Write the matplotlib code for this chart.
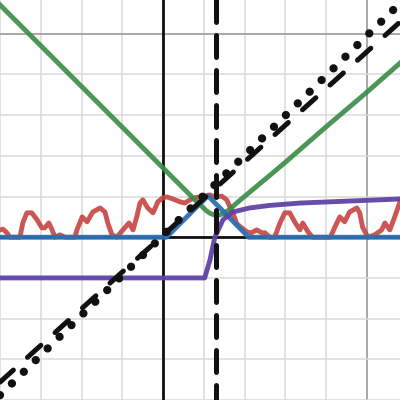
import numpy as np
import matplotlib
matplotlib.use("Agg")
import matplotlib.pyplot as plt
from matplotlib.ticker import MultipleLocator

# view window (graph units)
x_min, x_max = -4.01, 5.82
y_min, y_max = -4.00, 5.83

# red wobbly curve
red_x = [-4.01, -3.94, -3.84, -3.77, -3.59, -3.52, -3.45, -3.35, -3.23, -3.10,
         -2.98, -2.91, -2.81, -2.73, -2.66, -2.54, -2.41, -2.29, -2.17, -2.12,
         -1.99, -1.87, -1.73, -1.55, -1.43, -1.36, -1.26, -1.14, -0.99, -0.84,
         -0.74, -0.65, -0.57, -0.50, -0.38, -0.25, -0.13, -0.01, 0.09, 0.24,
         0.41, 0.53, 0.66, 0.78, 0.90, 1.02, 1.15, 1.27, 1.44, 1.56,
         1.71, 1.81, 1.93, 2.06, 2.17, 2.30, 2.42, 2.50, 2.62, 2.74,
         2.87, 2.99, 3.11, 3.23, 3.36, 3.43, 3.56, 3.67, 3.86, 4.11,
         4.22, 4.34, 4.46, 4.58, 4.76, 4.83, 4.90, 5.03, 5.20, 5.37,
         5.45, 5.57, 5.69, 5.82]
red_y = [0.18, 0.20, 0.11, 0.0, 0.0, 0.0, 0.35, 0.60, 0.60, 0.43,
         0.23, 0.23, 0.35, 0.18, 0.0, 0.06, 0.0, 0.0, 0.0, 0.18,
         0.50, 0.38, 0.62, 0.72, 0.62, 0.35, 0.06, 0.0, 0.18, 0.35,
         0.18, 0.50, 0.84, 0.92, 0.72, 0.60, 0.87, 0.97, 0.99, 0.94,
         0.87, 0.84, 0.92, 0.97, 0.99, 1.01, 1.04, 0.99, 1.01, 0.92,
         0.60, 0.33, 0.23, 0.13, 0.11, 0.18, 0.11, 0.11, 0.0, 0.0,
         0.35, 0.60, 0.60, 0.38, 0.18, 0.35, 0.13, 0.0, 0.0, 0.0,
         0.25, 0.50, 0.38, 0.62, 0.72, 0.60, 0.25, 0.0, 0.06, 0.18,
         0.35, 0.18, 0.50, 0.87]

# green V-shaped curve
green_x = [-4.01, 0.0, 0.8, 0.95, 1.05, 1.15, 1.25, 1.35, 1.45, 1.6, 1.75, 1.9,
           2.5, 3.0, 4.0, 5.0, 5.82]
green_y = [5.71, 1.70, 0.90, 0.76, 0.66, 0.59, 0.55, 0.54, 0.57, 0.66, 0.79, 0.92,
           1.42, 1.84, 2.71, 3.56, 4.28]

# blue tent
blue_x = [-4.01, 0.08, 1.10, 2.10, 5.82]
blue_y = [0.0, 0.0, 1.02, 0.0, 0.0]

# purple step
purple_x = [-4.01, 1.02, 1.15, 1.27, 1.47, 1.71, 2.13, 2.60, 3.36, 4.59, 5.82]
purple_y = [-1.0, -1.0, -0.56, 0.0, 0.43, 0.62, 0.72, 0.78, 0.84, 0.89, 0.94]

# black lines
dotted_x = [-4.01, 5.82]
dotted_y = [-3.88, 5.75]
dashed_x = [-4.01, 5.82]
dashed_y = [-3.56, 5.29]
vline_x = 1.30

fig = plt.figure(figsize=(4, 4), dpi=100)
ax = fig.add_axes([0, 0, 1, 1])
ax.set_xlim(x_min, x_max)
ax.set_ylim(y_min, y_max)

ax.xaxis.set_major_locator(MultipleLocator(5))
ax.yaxis.set_major_locator(MultipleLocator(5))
ax.xaxis.set_minor_locator(MultipleLocator(1))
ax.yaxis.set_minor_locator(MultipleLocator(1))
ax.grid(which="minor", color="#dadada", lw=1.1)
ax.grid(which="major", color="#9a9a9a", lw=1.2)
ax.tick_params(which="both", length=0, labelbottom=False, labelleft=False)
ax.set_axisbelow(True)
for s in ax.spines.values():
    s.set_visible(False)

ax.axhline(0, color="#111111", lw=2.0, zorder=1)
ax.axvline(0, color="#111111", lw=2.0, zorder=1)

lw = 3.5
ax.plot(red_x, red_y, color="#c74440", lw=lw, alpha=0.9, solid_joinstyle="round", zorder=2)
ax.plot(green_x, green_y, color="#388c46", lw=lw, alpha=0.9, solid_joinstyle="round", zorder=3)
ax.plot(blue_x, blue_y, color="#2d70b3", lw=lw, alpha=0.95, solid_joinstyle="round", zorder=4)
ax.plot(purple_x, purple_y, color="#6042a6", lw=lw, alpha=0.95, solid_joinstyle="round", zorder=5)

ax.plot(dotted_x, dotted_y, color="#111111", lw=6, linestyle=(0, (0.001, 2.0)),
        dash_capstyle="round", zorder=6)
ax.plot(dashed_x, dashed_y, color="#111111", lw=3.6, linestyle=(0, (3.6, 3.8)),
        dash_capstyle="round", zorder=6)
ax.plot([vline_x, vline_x], [y_max, y_min], color="#111111", lw=3.6,
        linestyle=(0, (4.4, 2.6)), dash_capstyle="round", zorder=6)

fig.savefig("out.png", dpi=100)
